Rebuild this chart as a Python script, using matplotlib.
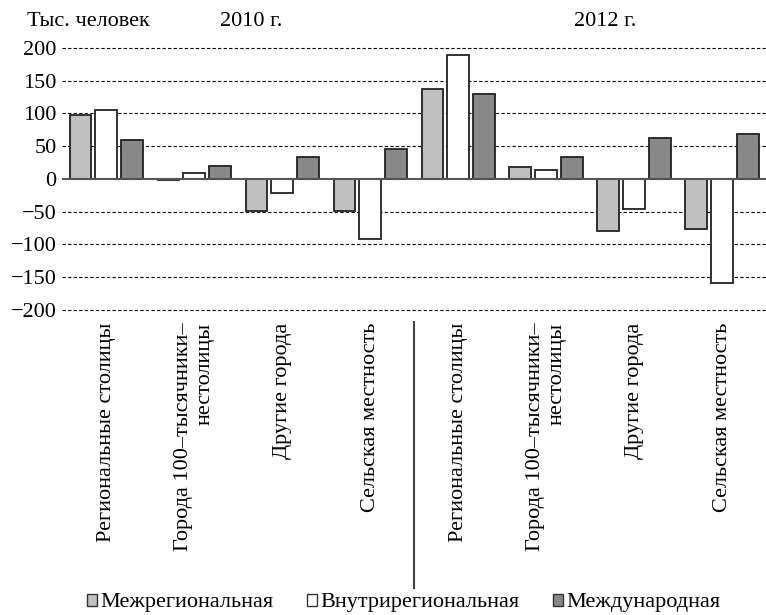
import numpy as np
import matplotlib
matplotlib.use("Agg")
import matplotlib.pyplot as plt
from matplotlib.patches import Patch
import matplotlib.transforms as mtransforms

# data (thousand people)
categories = ["Региональные столицы", "Города 100–тысячники–\nнестолицы",
              "Другие города", "Сельская местность"]
years = ["2010 г.", "2012 г."]
series = ["Межрегиональная", "Внутрирегиональная", "Международная"]
inter_reg = [98, -1, -49, -49, 137, 19, -79, -76]
intra_reg = [106, 9, -22, -92, 190, 14, -46, -159]
international = [59, 20, 34, 45, 130, 34, 62, 69]
yticks = [-200, -150, -100, -50, 0, 50, 100, 150, 200]

colors = ["#c0c0c0", "#ffffff", "#888888"]

plt.rcParams['font.family'] = ['Liberation Serif', 'DejaVu Serif']
plt.rcParams['font.size'] = 16

fig = plt.figure(figsize=(7.66, 6.15), dpi=100)
ax = fig.add_axes([0.081, 0.496, 0.919, 0.426])

x = np.arange(len(inter_reg))
w = 0.24
off = 0.295
for k, (vals, c) in enumerate(zip([inter_reg, intra_reg, international], colors)):
    ax.bar(x + (k - 1) * off, vals, width=w, color=c, edgecolor="#222222",
           linewidth=1.3, zorder=3)

ax.set_ylim(-200, 200)
ax.set_xlim(-0.5, 7.5)
ax.set_yticks(yticks)
for t in yticks:
    if t == 0:
        ax.axhline(0, color="#555555", lw=1.5, zorder=4)
    else:
        ax.axhline(t, color="black", lw=0.8, ls=(0, (3, 2)), zorder=1,
                   clip_on=False)
for s in ax.spines.values():
    s.set_visible(False)
ax.tick_params(axis="y", length=0, pad=4)
ax.tick_params(axis="x", length=0, pad=9)
ax.set_xticks(x)
ax.set_xticklabels(categories * 2, rotation=90, va="top", ha="center",
                   multialignment="right")

# divider between years
trans = mtransforms.blended_transform_factory(ax.transData, fig.transFigure)
ax.plot([3.5, 3.5], [1 - 322 / 615, 1 - 588 / 615], transform=trans,
        color="#444444", lw=1.5, clip_on=False)

fig.text(27 / 766, 1 - 21 / 615, "Тыс. человек", va="center", ha="left")
fig.text(251 / 766, 1 - 21 / 615, years[0], va="center", ha="center")
fig.text(605 / 766, 1 - 21 / 615, years[1], va="center", ha="center")

handles = [Patch(facecolor=c, edgecolor="#333333", linewidth=1.0) for c in colors]
fig.legend(handles, series, loc="center", bbox_to_anchor=(0.527, 1 - 603 / 615),
           ncol=3, frameon=False, handlelength=0.45, handleheight=0.45,
           handletextpad=0.15, columnspacing=1.5, borderpad=0)

fig.savefig("out.png", dpi=100)
